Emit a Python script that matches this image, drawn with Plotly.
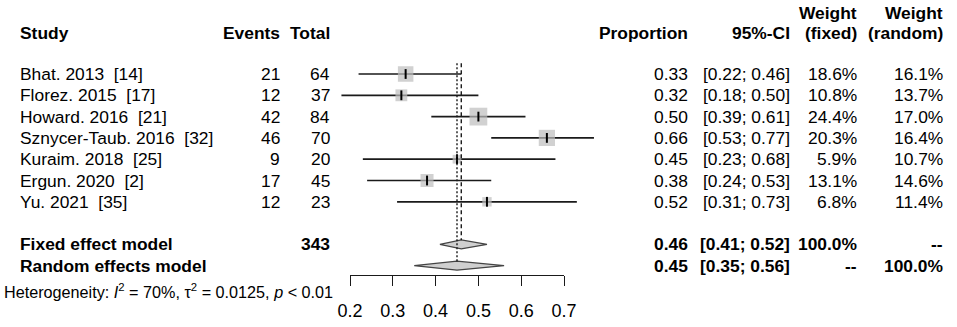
import math
import plotly.graph_objects as go

# ---------------- data ----------------
studies = ["Bhat. 2013 \u00a0[14]", "Florez. 2015 \u00a0[17]", "Howard. 2016 \u00a0[21]",
           "Sznycer-Taub. 2016 \u00a0[32]", "Kuraim. 2018 \u00a0[25]", "Ergun. 2020 \u00a0[2]",
           "Yu. 2021 \u00a0[35]"]
events = [21, 12, 42, 46, 9, 17, 12]
totals = [64, 37, 84, 70, 20, 45, 23]
proportion = [0.33, 0.32, 0.50, 0.66, 0.45, 0.38, 0.52]
ci_low = [0.22, 0.18, 0.39, 0.53, 0.23, 0.24, 0.31]
ci_high = [0.46, 0.50, 0.61, 0.77, 0.68, 0.53, 0.73]
weight_fixed = [18.6, 10.8, 24.4, 20.3, 5.9, 13.1, 6.8]
weight_random = [16.1, 13.7, 17.0, 16.4, 10.7, 14.6, 11.4]

fixed_total = 343
fixed_est, fixed_low, fixed_high = 0.46, 0.41, 0.52
random_est, random_low, random_high = 0.45, 0.35, 0.56
heterogeneity = "Heterogeneity: <i>I</i><sup>2</sup> = 70%, τ<sup>2</sup> = 0.0125, <i>p</i> &lt; 0.01"

tick_vals = [0.2, 0.3, 0.4, 0.5, 0.6, 0.7]
tick_labels = ["0.2", "0.3", "0.4", "0.5", "0.6", "0.7"]

# ---------------- layout geometry ----------------
W, H = 957, 327
AX_LO_PX, AX_HI_PX = 350, 564          # pixel position of 0.2 and 0.7
scale = (AX_HI_PX - AX_LO_PX) / (tick_vals[-1] - tick_vals[0])
x_min = tick_vals[0] - AX_LO_PX / scale
x_max = tick_vals[0] + (W - AX_LO_PX) / scale

ROW0, ROWH = 74.0, 21.3
def row_y(i):
    return ROW0 + ROWH * i

FONT = "Arial, 'Liberation Sans', sans-serif"
FS = 17.4
GRAY_SQ = "#bdbdbd"
LINE_C = "#1a1a1a"

fig = go.Figure()

# CI lines
for i in range(len(studies)):
    y = row_y(i)
    fig.add_trace(go.Scatter(x=[ci_low[i], ci_high[i]], y=[y, y], mode="lines",
                             line=dict(color=LINE_C, width=1.7),
                             hoverinfo="skip", showlegend=False))

# weight squares
fig.add_trace(go.Scatter(
    x=proportion, y=[row_y(i) for i in range(len(studies))], mode="markers",
    marker=dict(symbol="square", color=GRAY_SQ,
                size=[3.6 * math.sqrt(w) for w in weight_fixed],
                line=dict(width=0)),
    hoverinfo="skip", showlegend=False))
# point estimate ticks
fig.add_trace(go.Scatter(
    x=proportion, y=[row_y(i) for i in range(len(studies))], mode="markers",
    marker=dict(symbol="line-ns", size=7, line=dict(color="black", width=2)),
    hoverinfo="skip", showlegend=False))

# reference lines (fixed dashed, random dotted)
y_top = row_y(-0.5)
DH = 4.5
fig.add_trace(go.Scatter(x=[fixed_est, fixed_est], y=[y_top, row_y(8) - DH],
                         mode="lines", xaxis="x2",
                         line=dict(color=LINE_C, width=1.4, dash="4px,3px"),
                         hoverinfo="skip", showlegend=False))
fig.add_trace(go.Scatter(x=[random_est, random_est], y=[y_top, row_y(9) - DH],
                         mode="lines", xaxis="x2",
                         line=dict(color=LINE_C, width=1.4, dash="2px,2px"),
                         hoverinfo="skip", showlegend=False))

# diamonds
for (est, lo, hi, r) in [(fixed_est, fixed_low, fixed_high, 8),
                         (random_est, random_low, random_high, 9)]:
    y = row_y(r)
    fig.add_trace(go.Scatter(x=[lo, est, hi, est, lo], y=[y, y - DH, y, y + DH, y],
                             mode="lines", fill="toself", fillcolor="#cfcfcf",
                             line=dict(color="#444444", width=1.2),
                             hoverinfo="skip", showlegend=False))

# ---------------- text ----------------
ann = []
def txt(x_px, y_px, text, anchor="right", size=FS, bold=False):
    ann.append(dict(x=x_min + x_px / scale, xref="x", y=y_px, yref="y",
                    text=f"<b>{text}</b>" if bold else text,
                    xanchor=anchor, yanchor="middle", showarrow=False,
                    font=dict(family=FONT, size=size, color="black")))

COL_STUDY, COL_EV, COL_TOT = 18, 282, 332
COL_PROP, COL_CI, COL_WF, COL_WR = 690, 792, 859, 945

HDR1, HDR2 = 13, 33
txt(COL_STUDY, HDR2, "Study", "left", bold=True)
txt(COL_EV, HDR2, "Events", bold=True)
txt(COL_TOT, HDR2, "Total", bold=True)
txt(COL_PROP, HDR2, "Proportion", bold=True)
txt(COL_CI, HDR2, "95%-CI", bold=True)
txt(COL_WF, HDR1, "Weight", bold=True)
txt(COL_WF, HDR2, "(fixed)", bold=True)
txt(COL_WR, HDR1, "Weight", bold=True)
txt(COL_WR, HDR2, "(random)", bold=True)

for i in range(len(studies)):
    y = row_y(i)
    txt(COL_STUDY, y, studies[i], "left")
    txt(COL_EV, y, str(events[i]))
    txt(COL_TOT, y, str(totals[i]))
    txt(COL_PROP, y, f"{proportion[i]:.2f}")
    txt(COL_CI, y, f"[{ci_low[i]:.2f}; {ci_high[i]:.2f}]")
    txt(COL_WF, y, f"{weight_fixed[i]:.1f}%")
    txt(COL_WR, y, f"{weight_random[i]:.1f}%")

yf, yr = row_y(8), row_y(9)
txt(COL_STUDY, yf, "Fixed effect model", "left", bold=True)
txt(COL_TOT, yf, str(fixed_total), bold=True)
txt(COL_PROP, yf, f"{fixed_est:.2f}", bold=True)
txt(COL_CI, yf, f"[{fixed_low:.2f}; {fixed_high:.2f}]", bold=True)
txt(COL_WF, yf, "100.0%", bold=True)
txt(COL_WR, yf, "--", bold=True)

txt(COL_STUDY, yr, "Random effects model", "left", bold=True)
txt(COL_PROP, yr, f"{random_est:.2f}", bold=True)
txt(COL_CI, yr, f"[{random_low:.2f}; {random_high:.2f}]", bold=True)
txt(COL_WF, yr, "--", bold=True)
txt(COL_WR, yr, "100.0%", bold=True)

txt(2, 291, heterogeneity, "left", size=16.2)

fig.update_layout(
    width=W, height=H, margin=dict(l=0, r=0, t=0, b=0, autoexpand=False),
    paper_bgcolor="white", plot_bgcolor="rgba(0,0,0,0)",
    xaxis=dict(range=[x_min, x_max], domain=[0, 1], visible=False, fixedrange=True),
    xaxis2=dict(range=[tick_vals[0], tick_vals[-1]],
                domain=[AX_LO_PX / W, AX_HI_PX / W],
                anchor="free", position=1 - 275 / H, side="bottom",
                showline=True, linecolor=LINE_C, linewidth=1.3,
                ticks="outside", ticklen=10, tickwidth=1.3, tickcolor=LINE_C,
                tickvals=tick_vals, ticktext=tick_labels, ticklabelstandoff=9,
                tickfont=dict(family=FONT, size=18, color="black"),
                showgrid=False, zeroline=False, fixedrange=True, automargin=False),
    yaxis=dict(range=[H, 0], domain=[0, 1], visible=False, fixedrange=True),
    annotations=ann,
)

fig.write_html("out.html", config={"displayModeBar": False},
               post_script="document.body.style.margin='0px';")
